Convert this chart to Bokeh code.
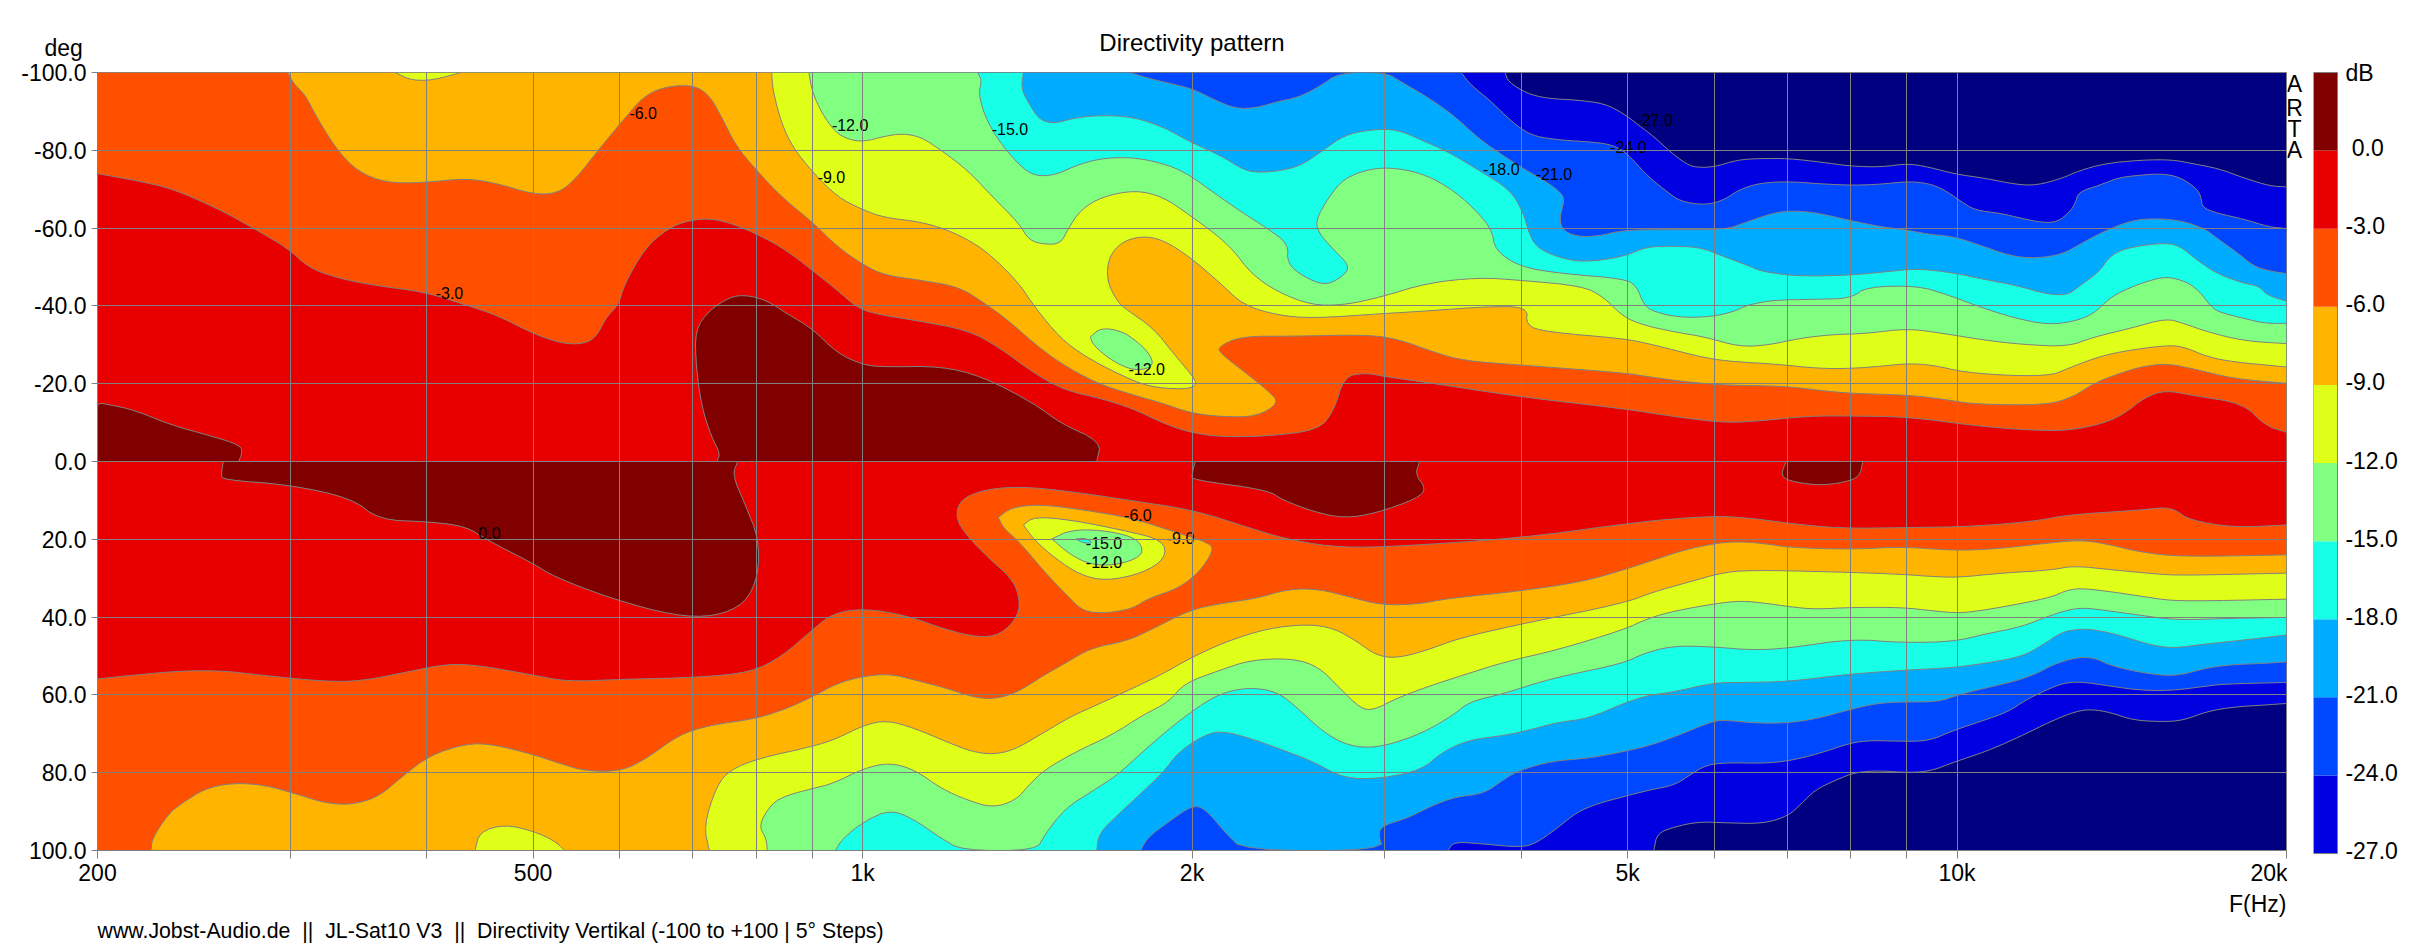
from bokeh.plotting import figure
from bokeh.layouts import row, column
from bokeh.models import (Range1d, FixedTicker, PrintfTickFormatter, ColumnDataSource, Title)
from bokeh.core.properties import value
from bokeh.embed import file_html
from bokeh.resources import INLINE

# Every contour is a list of (log10 of frequency in Hz, angle in degrees).
U27 = [(3.587,-100),(3.590,-97.6),(3.607,-94.6),(3.626,-93.3),(3.654,-92.9),(3.678,-92),(3.695,-89.5),(3.709,-86.5),(3.723,-83.5),(3.738,-79.6),(3.752,-76.6),(3.761,-75.6),(3.778,-75.7),(3.799,-77.5),(3.818,-77.9),(3.846,-77.9),(3.875,-77),(3.903,-75.9),(3.931,-75.7),(3.955,-76.6),(3.974,-75.7),(3.998,-73.9),(4.026,-72.8),(4.054,-71.2),(4.073,-71),(4.097,-72.9),(4.111,-74.7),(4.135,-76.6),(4.168,-77.5),(4.196,-77.6),(4.215,-76.6),(4.239,-75.3),(4.263,-72.8),(4.286,-70.8),(4.301,-70.6)]
L27 = [(3.723,100),(3.726,95.6),(3.742,93.9),(3.764,92.6),(3.790,92.9),(3.823,93.1),(3.846,91.1),(3.858,87.9),(3.870,84.5),(3.889,81.9),(3.908,79.8),(3.931,79.5),(3.955,80),(3.976,79.6),(3.998,77.2),(4.026,74.6),(4.054,71.2),(4.088,66.5),(4.109,64.2),(4.123,63.7),(4.140,64.5),(4.161,66.5),(4.187,66.9),(4.206,66.6),(4.229,64.2),(4.253,63.1),(4.281,62.6),(4.301,62.2)]
U24 = [(3.547,-100),(3.556,-96.7),(3.573,-92.9),(3.587,-89),(3.601,-85.6),(3.615,-83.5),(3.639,-82.6),(3.663,-82.2),(3.682,-81.6),(3.695,-80),(3.704,-77.5),(3.718,-73.2),(3.737,-68.9),(3.747,-67),(3.763,-66.1),(3.777,-66.3),(3.789,-67.6),(3.801,-69.9),(3.820,-71.6),(3.846,-72),(3.879,-71.3),(3.907,-71),(3.931,-71.3),(3.955,-72),(3.974,-71.5),(3.988,-69.9),(4.002,-67.2),(4.016,-64.6),(4.040,-63.8),(4.059,-62.5),(4.078,-61.4),(4.092,-61.6),(4.103,-64.2),(4.108,-66.3),(4.111,-69.3),(4.130,-71),(4.148,-73),(4.167,-73.6),(4.186,-74),(4.203,-73.2),(4.219,-70.2),(4.223,-68),(4.224,-65.3),(4.238,-63.8),(4.262,-62.3),(4.285,-60.3),(4.301,-59.9)]
L24 = [(3.535,100),(3.540,97.8),(3.563,98.2),(3.601,99.2),(3.615,98.2),(3.634,94.4),(3.653,90.1),(3.672,87.9),(3.695,86.2),(3.718,84.5),(3.742,83.2),(3.756,80.6),(3.770,78.1),(3.789,77.4),(3.822,77.6),(3.846,77),(3.874,75.1),(3.903,72.3),(3.922,71.7),(3.945,71.9),(3.974,71.9),(3.997,69.1),(4.025,66.5),(4.047,64.3),(4.063,61.3),(4.075,59.6),(4.096,57),(4.113,56.6),(4.139,57.7),(4.167,58.8),(4.196,58.9),(4.224,57.9),(4.243,57.2),(4.301,56.8)]
U21 = [(3.244,-100),(3.261,-98.5),(3.284,-97),(3.303,-95.6),(3.322,-92.9),(3.341,-90.7),(3.360,-90.9),(3.379,-92.5),(3.398,-93.6),(3.417,-96.3),(3.436,-100),(3.478,-100),(3.492,-97.6),(3.516,-93.7),(3.540,-89),(3.563,-83),(3.587,-78.3),(3.606,-74.9),(3.625,-71.9),(3.639,-68.9),(3.641,-66.8),(3.637,-62.9),(3.639,-59.5),(3.653,-57.8),(3.672,-57.9),(3.695,-59.5),(3.742,-59.6),(3.789,-59.6),(3.808,-61.6),(3.836,-64.2),(3.855,-64.4),(3.874,-63.8),(3.903,-61.9),(3.931,-60.3),(3.952,-59.6),(3.974,-58.4),(3.997,-57.8),(4.021,-55.6),(4.049,-52.8),(4.073,-52.2),(4.096,-53.3),(4.111,-55.6),(4.130,-58.6),(4.158,-61.9),(4.181,-62.5),(4.205,-61.9),(4.226,-59.9),(4.238,-57.3),(4.257,-53.5),(4.271,-50.2),(4.285,-49),(4.301,-48.3)]
L21 = [(3.254,100),(3.261,96.5),(3.280,92.6),(3.301,88.4),(3.313,89.2),(3.332,95.6),(3.348,100),(3.476,100),(3.471,95.6),(3.476,93.5),(3.497,91.8),(3.521,88.4),(3.542,86.2),(3.568,85.4),(3.587,81.5),(3.601,79.3),(3.630,77),(3.663,76.3),(3.695,74.6),(3.718,73.1),(3.742,70.8),(3.777,66.7),(3.789,66.5),(3.818,67.3),(3.846,67.2),(3.872,66.1),(3.903,63.7),(3.926,62.2),(3.950,61.8),(3.983,61.8),(4.002,59.9),(4.025,58.3),(4.054,56.4),(4.073,54.5),(4.087,52.3),(4.108,50.4),(4.125,50.4),(4.139,52.3),(4.163,54),(4.191,55.1),(4.207,54.7),(4.229,53),(4.252,52.2),(4.281,51.9),(4.301,51.5)]
U18 = [(3.147,-100),(3.145,-95.9),(3.152,-92),(3.162,-87.7),(3.176,-86.9),(3.195,-88.4),(3.218,-89),(3.247,-88.6),(3.275,-86),(3.299,-82.2),(3.327,-78.7),(3.346,-75.3),(3.358,-74.3),(3.379,-74.6),(3.400,-76),(3.419,-79.6),(3.440,-83.9),(3.464,-85.3),(3.488,-85.4),(3.511,-82.6),(3.535,-79.6),(3.563,-74.9),(3.592,-69.8),(3.604,-63.8),(3.608,-59.5),(3.615,-55.2),(3.634,-52.6),(3.658,-51.2),(3.695,-52.6),(3.716,-55.2),(3.742,-55.4),(3.766,-55),(3.784,-53),(3.808,-50.5),(3.822,-48.8),(3.855,-47.6),(3.903,-47.9),(3.936,-48.8),(3.964,-49.6),(3.997,-48.5),(4.025,-46.8),(4.054,-45.3),(4.082,-43),(4.101,-42.8),(4.111,-44.9),(4.130,-48.8),(4.139,-52.6),(4.153,-54.8),(4.186,-56.2),(4.203,-55.6),(4.219,-51.8),(4.238,-48.2),(4.262,-45.8),(4.276,-45.1),(4.283,-42.8),(4.301,-41.2)]
L18 = [(3.214,100),(3.216,95.6),(3.233,90.9),(3.256,84.9),(3.275,79.8),(3.289,74.6),(3.313,70.2),(3.329,69.3),(3.355,71.2),(3.388,74.6),(3.412,77.2),(3.440,81.5),(3.474,81.5),(3.511,79.3),(3.530,74.6),(3.554,71.6),(3.582,70.6),(3.606,69.3),(3.634,67.1),(3.663,66.1),(3.695,62.2),(3.718,60.1),(3.742,59.2),(3.777,56.9),(3.803,56.8),(3.846,56.6),(3.903,54.6),(3.955,53.6),(3.997,53),(4.025,51.9),(4.059,50.2),(4.078,47.2),(4.096,43.8),(4.111,43.1),(4.125,43.2),(4.148,44.6),(4.177,47.2),(4.198,48),(4.224,47),(4.262,45.9),(4.301,44.6)]
U15 = [(3.105,-100),(3.109,-98),(3.106,-94.6),(3.112,-88.6),(3.124,-82.6),(3.143,-76.2),(3.157,-73.4),(3.176,-73.6),(3.199,-76.6),(3.223,-78.1),(3.251,-78.1),(3.280,-76.2),(3.299,-73.6),(3.322,-68.9),(3.346,-64.2),(3.370,-59.9),(3.389,-56),(3.388,-50.9),(3.403,-47.5),(3.422,-45.3),(3.436,-47),(3.446,-50),(3.431,-54.3),(3.417,-58.6),(3.414,-62),(3.426,-68),(3.440,-72.8),(3.464,-75.3),(3.488,-75.5),(3.516,-73.6),(3.542,-69.3),(3.563,-63.8),(3.575,-59.5),(3.578,-54.3),(3.601,-50),(3.639,-48.3),(3.695,-47),(3.707,-45.3),(3.714,-40.2),(3.723,-38.5),(3.747,-37),(3.775,-37.2),(3.796,-38.5),(3.808,-40.2),(3.832,-41.5),(3.870,-41.7),(3.903,-41.9),(3.917,-44.9),(3.964,-45.2),(3.992,-42.8),(4.025,-39.3),(4.054,-36.8),(4.082,-35.2),(4.106,-35.9),(4.125,-38),(4.139,-41.9),(4.153,-44.1),(4.172,-46.2),(4.191,-47.6),(4.210,-46.2),(4.222,-43.6),(4.231,-40.2),(4.238,-38.5),(4.262,-36.8),(4.281,-35.5),(4.301,-35.5)]
L15 = [(2.975,100),(2.982,96.9),(3.001,92.6),(3.025,89.5),(3.046,91.8),(3.072,96.9),(3.091,100),(3.159,100),(3.166,96.1),(3.185,89.2),(3.209,84.9),(3.233,80.6),(3.256,74.6),(3.284,67.8),(3.313,61.8),(3.332,59.2),(3.355,58.1),(3.379,59.2),(3.398,63.5),(3.417,68.6),(3.436,72.1),(3.455,73.6),(3.478,73.1),(3.511,69.9),(3.540,65.2),(3.554,61.8),(3.587,59.6),(3.615,57),(3.644,54.9),(3.695,51.9),(3.714,49.3),(3.740,47.4),(3.775,47.6),(3.813,48.5),(3.846,48),(3.903,45.6),(3.950,46.6),(3.997,46.3),(4.025,44.4),(4.059,42.5),(4.082,39.9),(4.101,38.2),(4.115,37.6),(4.134,38.2),(4.167,39.5),(4.200,40.8),(4.252,40.3),(4.301,40.1)]
U12 = [(2.951,-100),(2.954,-95),(2.963,-89.5),(2.975,-84.7),(2.987,-82.8),(3.001,-82.2),(3.020,-83.6),(3.036,-84.3),(3.053,-83.5),(3.072,-80),(3.096,-74.9),(3.119,-68),(3.143,-61.2),(3.152,-56.9),(3.166,-55.8),(3.181,-56),(3.188,-59.9),(3.199,-64.6),(3.218,-68),(3.249,-69.8),(3.275,-68),(3.299,-63.3),(3.322,-58.6),(3.339,-54.3),(3.355,-48.3),(3.379,-43.6),(3.410,-40.2),(3.440,-40.2),(3.474,-42.3),(3.516,-45.9),(3.563,-47.3),(3.601,-46.6),(3.658,-45.1),(3.677,-42.3),(3.695,-37.2),(3.714,-35),(3.742,-33.3),(3.770,-32),(3.801,-29.5),(3.827,-29.9),(3.855,-31.6),(3.884,-32.6),(3.917,-32.9),(3.955,-34.2),(3.988,-32.9),(4.025,-31.2),(4.059,-30.1),(4.101,-29.5),(4.125,-32),(4.158,-34.2),(4.191,-36.8),(4.207,-35.5),(4.229,-33.3),(4.262,-31),(4.301,-30.3)]
L12 = [(2.913,100),(2.912,96.9),(2.905,93.5),(2.917,87.9),(2.931,85.8),(2.954,84.1),(2.973,82.8),(3.001,78.9),(3.025,77.4),(3.048,79.3),(3.072,84.1),(3.096,87.1),(3.119,89),(3.140,87.1),(3.152,83.2),(3.166,79.3),(3.195,74.6),(3.228,70.3),(3.256,65.2),(3.280,61.8),(3.294,57),(3.327,53.6),(3.355,51),(3.393,50.6),(3.417,52.8),(3.436,58.3),(3.455,63.5),(3.467,63.9),(3.488,60.9),(3.516,57.9),(3.549,54.9),(3.587,51.5),(3.634,48.5),(3.695,43.3),(3.718,40.3),(3.742,38.4),(3.780,36.5),(3.803,35.8),(3.827,36.5),(3.846,37.3),(3.870,38),(3.903,37.5),(3.950,37.5),(3.978,38.4),(4.002,39),(4.025,38.2),(4.059,36.5),(4.087,34.8),(4.101,33),(4.115,32.6),(4.144,33.6),(4.172,34.8),(4.196,35.8),(4.233,35.8),(4.301,35.4)]
U9 = [(2.917,-100),(2.918,-95.5),(2.926,-86.9),(2.936,-80.9),(2.954,-74.5),(2.977,-68),(3.001,-64.6),(3.020,-62.7),(3.053,-61.6),(3.077,-59.6),(3.100,-56.5),(3.119,-52.6),(3.143,-45.8),(3.157,-39.8),(3.181,-31.6),(3.204,-26.9),(3.233,-22.6),(3.261,-19.2),(3.294,-18.5),(3.306,-19.6),(3.301,-22.2),(3.284,-27.8),(3.266,-34.2),(3.242,-38.9),(3.233,-41),(3.223,-46.6),(3.225,-52.6),(3.237,-56.5),(3.256,-58),(3.275,-56.9),(3.299,-52.6),(3.327,-45.8),(3.348,-40.2),(3.379,-37.6),(3.412,-36.8),(3.474,-38),(3.516,-38.7),(3.568,-39.8),(3.608,-39.8),(3.606,-35),(3.625,-33.3),(3.695,-31.6),(3.718,-30.3),(3.742,-28.6),(3.766,-26.9),(3.789,-25.8),(3.836,-25),(3.874,-23.9),(3.903,-23.9),(3.931,-24.5),(3.955,-25.2),(3.978,-24.8),(4.007,-22.9),(4.054,-22),(4.087,-22.2),(4.101,-23.9),(4.125,-26.5),(4.148,-28.2),(4.191,-29.9),(4.207,-29.5),(4.229,-26.9),(4.252,-25.6),(4.301,-24.3)]
L9 = [(2.860,100),(2.855,93.5),(2.867,83.2),(2.879,79.3),(2.905,76.3),(2.954,73.3),(2.977,71.2),(3.001,67.8),(3.022,66.5),(3.048,68.6),(3.077,72.1),(3.100,74.6),(3.119,75.3),(3.138,74.2),(3.162,70.3),(3.190,65.6),(3.214,62.6),(3.247,58.3),(3.275,54.5),(3.299,50.6),(3.332,46.3),(3.370,42.9),(3.407,41.8),(3.431,42.9),(3.452,46.3),(3.469,49.8),(3.488,50.6),(3.516,48.5),(3.544,45.5),(3.601,41.8),(3.695,36.5),(3.723,33.5),(3.751,31.3),(3.789,28.3),(3.818,28),(3.846,28.1),(3.903,28.5),(3.950,29),(3.978,29.6),(4.002,29.8),(4.040,28.7),(4.087,27.9),(4.106,26.8),(4.144,27.9),(4.181,28.9),(4.205,29.3),(4.301,28.7)]
U6 = [(2.475,-100),(2.480,-97.2),(2.491,-94.2),(2.501,-88.6),(2.520,-80),(2.539,-74.5),(2.565,-71.6),(2.600,-71.7),(2.638,-72.8),(2.666,-71.5),(2.699,-68.7),(2.721,-68.9),(2.737,-72.3),(2.761,-80.9),(2.780,-87.3),(2.801,-94.2),(2.822,-96.5),(2.846,-96.7),(2.860,-94.2),(2.872,-88.2),(2.884,-81.3),(2.903,-74.9),(2.926,-68),(2.954,-61.6),(2.977,-55.2),(3.001,-50.5),(3.020,-47.9),(3.053,-46.6),(3.088,-44.9),(3.110,-41),(3.133,-36.3),(3.157,-30.3),(3.181,-25.2),(3.214,-20.1),(3.247,-17.1),(3.275,-14.9),(3.299,-12.5),(3.327,-11.5),(3.360,-11.5),(3.381,-15.1),(3.370,-18.3),(3.351,-22.6),(3.327,-27.8),(3.325,-29.5),(3.346,-32.2),(3.393,-32.2),(3.464,-32.6),(3.492,-31.2),(3.521,-28.2),(3.549,-25.9),(3.601,-24.8),(3.695,-22.8),(3.718,-21.8),(3.751,-20.5),(3.789,-19.6),(3.841,-19.4),(3.874,-18.3),(3.903,-17.5),(3.955,-17.1),(3.988,-16),(4.016,-14.7),(4.082,-14.5),(4.106,-16.6),(4.125,-20.1),(4.144,-22.2),(4.167,-24.3),(4.191,-25.2),(4.215,-23.9),(4.252,-21.3),(4.301,-20.1)]
L6 = [(2.350,100),(2.351,96.9),(2.366,90.5),(2.378,87.9),(2.399,84.1),(2.425,82.6),(2.454,83.2),(2.482,85.4),(2.510,87.9),(2.534,88.2),(2.558,86.2),(2.581,80.6),(2.605,75.5),(2.638,72.5),(2.662,72.7),(2.699,75.3),(2.723,77.6),(2.747,79.6),(2.780,79.6),(2.803,76.3),(2.832,70.3),(2.860,67.8),(2.903,66.1),(2.931,63.5),(2.954,60.5),(2.977,57),(3.001,55.2),(3.025,54.6),(3.048,56.2),(3.077,58.3),(3.100,60.5),(3.119,61.1),(3.140,59.6),(3.166,54.9),(3.185,51.9),(3.209,47.9),(3.242,46.1),(3.266,42.9),(3.299,38.2),(3.327,36.5),(3.360,35.2),(3.389,32.8),(3.417,32.8),(3.445,34.8),(3.474,36.9),(3.507,36.7),(3.535,35.2),(3.601,33.3),(3.658,30.9),(3.695,27.9),(3.723,25.3),(3.751,22.7),(3.780,21),(3.799,20.6),(3.822,21),(3.846,22.1),(3.903,22.6),(3.950,21.9),(3.997,22.9),(4.035,22.5),(4.082,21),(4.111,20.2),(4.134,21),(4.167,23.3),(4.205,24.5),(4.301,24)]
U3 = [(2.301,-74),(2.335,-72.3),(2.369,-70.2),(2.411,-65),(2.444,-59.9),(2.475,-54.8),(2.494,-49.8),(2.520,-47.2),(2.553,-45.3),(2.600,-43.6),(2.638,-40.2),(2.666,-37.6),(2.699,-32.9),(2.723,-30.5),(2.742,-30.1),(2.756,-31.6),(2.766,-37.2),(2.777,-40.2),(2.782,-45.3),(2.801,-54.8),(2.822,-59.9),(2.841,-62),(2.865,-62.5),(2.893,-59.9),(2.926,-55.2),(2.954,-49.2),(2.977,-44),(2.994,-39.8),(3.010,-38),(3.048,-36.3),(3.096,-33.8),(3.124,-29.5),(3.157,-22.6),(3.185,-18.3),(3.218,-16.2),(3.247,-13.6),(3.275,-9.8),(3.299,-7.5),(3.327,-6.3),(3.370,-6.5),(3.417,-8.1),(3.431,-13.2),(3.440,-21.8),(3.459,-22.8),(3.478,-21.8),(3.521,-20.1),(3.601,-16.6),(3.695,-13.6),(3.742,-11.5),(3.789,-9.9),(3.822,-10.5),(3.865,-11.7),(3.903,-11.7),(3.955,-11.5),(4.016,-9.2),(4.063,-8.1),(4.101,-7.9),(4.134,-9.8),(4.153,-12.3),(4.172,-16.6),(4.191,-18.3),(4.215,-17),(4.262,-14.9),(4.281,-9.3),(4.301,-7.5)]
L3 = [(2.301,55.9),(2.335,54.9),(2.378,53.8),(2.416,53.8),(2.449,54.9),(2.510,56.6),(2.543,56.4),(2.586,54),(2.619,52.1),(2.647,52.3),(2.699,54.9),(2.730,56.6),(2.780,56),(2.851,55.5),(2.898,54.2),(2.926,50.2),(2.954,43.3),(2.973,39),(3.001,37.8),(3.039,39.5),(3.077,43.3),(3.105,45.2),(3.126,44.6),(3.143,39.5),(3.143,34.3),(3.136,30),(3.114,24.5),(3.096,19.3),(3.085,14.6),(3.089,9.9),(3.110,7.3),(3.143,6.4),(3.190,7.7),(3.242,9.9),(3.303,12.5),(3.355,17.2),(3.384,19.7),(3.426,21.9),(3.474,22.1),(3.601,19.7),(3.695,16.1),(3.733,14.9),(3.780,14),(3.813,14.6),(3.846,15.9),(3.893,17.2),(3.955,17),(4.016,16.7),(4.073,15.3),(4.101,13.7),(4.167,12.5),(4.189,11.8),(4.200,12.5),(4.212,15),(4.252,17),(4.301,16.3)]

# Areas above 0 dB
Z1 = [(2.301,0),(2.301,-13),(2.301,-15.1),(2.312,-14.6),(2.335,-13.2),(2.369,-9.3),(2.402,-6.8),(2.432,-4.2),(2.433,-2),(2.430,0)]
Z2 = [(2.867,0),(2.870,-2.1),(2.862,-6.3),(2.853,-14.1),(2.848,-24.3),(2.847,-33.8),(2.860,-38.9),(2.879,-42.3),(2.893,-42.8),(2.912,-41.5),(2.931,-38),(2.954,-34.2),(2.977,-27.8),(3.001,-24.8),(3.020,-24.3),(3.072,-24.5),(3.110,-21.8),(3.157,-14.9),(3.181,-9.8),(3.218,-5.1),(3.214,0)]
Z3 = [(2.416,0),(2.414,3.4),(2.416,4.7),(2.477,6),(2.534,9.5),(2.558,15),(2.605,15.5),(2.638,16.7),(2.657,20.2),(2.699,26.2),(2.718,29.6),(2.770,35.2),(2.827,39.6),(2.865,39.9),(2.893,36.5),(2.905,29.2),(2.905,19.7),(2.893,11.2),(2.881,3.4),(2.886,0)]
Z4 = [(3.304,0),(3.301,3.4),(3.301,4.7),(3.370,7.3),(3.384,9.9),(3.412,12.9),(3.440,14.6),(3.469,13.3),(3.507,9.5),(3.515,6.9),(3.505,3.4),(3.509,0)]
Z5 = [(3.844,0),(3.839,3.4),(3.846,5),(3.874,6.2),(3.898,5.3),(3.911,3.9),(3.914,0)]

# Small closed areas that lie inside a wider band
TOP_YELLOW = [(2.573,-100),(2.586,-98.2),(2.600,-97.9),(2.614,-98.5),(2.633,-100)]
BOT_YELLOW = [(2.646,100),(2.650,95.2),(2.673,93.3),(2.699,95),(2.718,97.4),(2.728,100)]
UP_GREEN = [(3.208,-32),(3.218,-34.4),(3.237,-33.5),(3.251,-30.8),(3.262,-27.8),(3.266,-24.8),(3.256,-23.5),(3.242,-23.9),(3.225,-26.5),(3.211,-29.9),(3.208,-32)]
DIP_ORANGE = [(3.124,14.4),(3.136,11.8),(3.162,11),(3.204,12.5),(3.247,14.6),(3.284,18),(3.318,21),(3.320,23.2),(3.308,28.3),(3.289,32.6),(3.261,35.2),(3.247,37.8),(3.223,39),(3.202,38.6),(3.188,34.8),(3.166,28.3),(3.143,20.6),(3.129,17.2),(3.124,14.4)]
DIP_YELLOW = [(3.147,16.3),(3.157,14.2),(3.190,15),(3.237,17.6),(3.275,20.2),(3.277,24.9),(3.256,28.7),(3.223,30.7),(3.199,29.2),(3.176,24.9),(3.157,20.2),(3.147,16.3)]
DIP_GREEN = [(3.173,19.9),(3.190,17.6),(3.218,17.6),(3.247,19.3),(3.256,21.9),(3.254,24.5),(3.233,26.6),(3.209,26.6),(3.190,24),(3.173,19.9)]
DIP_CYAN = [(3.195,19.9),(3.204,19.7),(3.211,21),(3.202,21),(3.195,19.9)]

LEVEL_COLORS = ["#0000E0","#0048FF","#00ACFF","#18FFE8","#80FF80","#E0FF18","#FFB400","#FF5000","#E80000","#800000"]
BAND_CURVES = [(U27,L27),(U24,L24),(U21,L21),(U18,L18),(U15,L15),(U12,L12),(U9,L9),(U6,L6),(U3,L3)]
ISLANDS = [(TOP_YELLOW,"#E0FF18"),(BOT_YELLOW,"#E0FF18"),(UP_GREEN,"#80FF80"),(DIP_ORANGE,"#FFB400"),
           (DIP_YELLOW,"#E0FF18"),(DIP_GREEN,"#80FF80"),(DIP_CYAN,"#18FFE8"),
           (Z1,"#800000"),(Z2,"#800000"),(Z3,"#800000"),(Z4,"#800000"),(Z5,"#800000")]

contour_f = [2.787,2.610,2.649,2.972,3.118,2.959,3.243,3.567,3.615,3.707,3.683,3.239,3.278,3.204,3.204]
contour_d = [-89.5,-43.2,18.5,-86.5,-85.6,-73.2,-23.9,-75.1,-74,-87.7,-80.9,13.7,19.7,21,25.9]
contour_t = ["-6.0","-3.0","0.0","-12.0","-15.0","-9.0","-12.0","-18.0","-21.0","-27.0","-24.0","-6.0","-9.0","-15.0","-12.0"]

freq_ticks = [200,300,400,500,600,700,800,900,1000,2000,3000,4000,5000,6000,7000,8000,9000,10000,20000]
freq_names = {200:"200",500:"500",1000:"1k",2000:"2k",5000:"5k",10000:"10k",20000:"20k"}
deg_ticks = [-100,-80,-60,-40,-20,0,20,40,60,80,100]
db_low = [-27,-24,-21,-18,-15,-12,-9,-6,-3,0]
db_high = [-24,-21,-18,-15,-12,-9,-6,-3,0,3]
db_ticks = [0,-3,-6,-9,-12,-15,-18,-21,-24,-27]
arta_letters = ["A","R","T","A"]
arta_deg = [-97,-91,-85.5,-80]
F = "Liberation Sans"
GREY = "#808080"

p = figure(width=2287, height=950, x_axis_type="log", x_range=Range1d(200,20000), y_range=Range1d(100,-100),
           output_backend="svg", toolbar_location=None, background_fill_color="#000080",
           min_border_left=97, min_border_right=1, min_border_top=72, min_border_bottom=100,
           outline_line_color=GREY, border_fill_color="white")

def hz(points):
    return [10**a for a,_ in points]
def deg(points):
    return [b for _,b in points]
def round_corners(points, passes=2):
    # outline drawing only: softens the corners between the read points, keeping both ends
    pts = list(points)
    for _ in range(passes):
        out = [pts[0]]
        for (x0,y0),(x1,y1) in zip(pts[:-1], pts[1:]):
            out.append((0.75*x0+0.25*x1, 0.75*y0+0.25*y1))
            out.append((0.25*x0+0.75*x1, 0.25*y0+0.75*y1))
        out.append(pts[-1])
        pts = out
    return pts
def band(upper, lower):
    pts = round_corners(upper) + list(reversed(round_corners(lower)))
    if upper[0][0] > 2.301:
        pts = [(2.301,-100)] + pts
    if lower[0][0] > 2.301:
        pts = pts + [(2.301,100)]
    return pts

for (u,l),c in zip(BAND_CURVES, LEVEL_COLORS):
    pts = band(u,l)
    p.patch(hz(pts), deg(pts), fill_color=c, line_color=GREY, line_width=1)
for pts,c in ISLANDS:
    pts = round_corners(pts)
    p.patch(hz(pts), deg(pts), fill_color=c, line_color=GREY, line_width=1)

src = ColumnDataSource(dict(f=[10**v for v in contour_f], d=contour_d, t=contour_t))
p.text("f","d",text="t",source=src,text_font=value(F),text_font_size="16px",text_color="black",
       text_align="left",text_baseline="middle")

p.xgrid.ticker = FixedTicker(ticks=freq_ticks)
p.ygrid.ticker = FixedTicker(ticks=deg_ticks)
for g in (p.xgrid,p.ygrid):
    g.grid_line_color = GREY
    g.grid_line_width = 1
    g.level = "overlay"

xa = p.xaxis[0]
xa.ticker = FixedTicker(ticks=freq_ticks)
xa.major_label_overrides = {t: freq_names.get(t,"") for t in freq_ticks}
ya = p.yaxis[0]
ya.ticker = FixedTicker(ticks=deg_ticks)
ya.formatter = PrintfTickFormatter(format="%.1f")
for a in (xa,ya):
    a.axis_line_color = GREY
    a.major_tick_line_color = GREY
    a.minor_tick_line_color = None
    a.major_tick_in = 0
    a.major_label_text_font = F
    a.major_label_text_font_size = "23px"
    a.major_label_text_color = "black"
xa.major_tick_out = 8
xa.major_label_standoff = 1
ya.major_tick_out = 6
ya.major_label_standoff = 5

def heading(s, align, standoff, size="23px", offset=0):
    return Title(text=s, align=align, standoff=standoff, offset=offset, text_font=F, text_font_size=size,
                 text_font_style="normal", text_color="black")
p.add_layout(heading("deg", "left", 24, offset=-53), "above")
p.add_layout(heading("Directivity pattern", "center", -70, "24px"), "above")
p.add_layout(heading("F(Hz)", "right", 0), "below")
p.add_layout(heading("www.Jobst-Audio.de\u00a0\u00a0||\u00a0\u00a0JL-Sat10 V3\u00a0\u00a0||\u00a0\u00a0Directivity Vertikal (-100 to +100 | 5° Steps)", "left", 0, "21.3px"), "below")

# narrow strip between the plot and the colour bar, for the upright program mark
r = figure(width=26, height=950, x_range=Range1d(0,1), y_range=p.y_range, output_backend="svg",
           toolbar_location=None, min_border_left=0, min_border_right=0, min_border_top=72, min_border_bottom=100,
           outline_line_color=None, border_fill_color="white", background_fill_color="white")
r.axis.visible = False
r.grid.visible = False
r.text(x=[0.27]*len(arta_letters), y=arta_deg, text=arta_letters, text_font=value(F), text_font_size="23px",
       text_color="black", text_align="center", text_baseline="middle")

# colour bar with its labels
q = figure(width=120, height=950, x_range=Range1d(0,5), y_range=Range1d(-27.65,3.845),
           output_backend="svg", toolbar_location=None, min_border_left=0, min_border_right=0,
           min_border_top=50, min_border_bottom=80, outline_line_color=None, border_fill_color="white",
           background_fill_color="white")
q.axis.visible = False
q.grid.visible = False
q.quad(left=0, right=1, bottom=db_low, top=db_high, fill_color=LEVEL_COLORS, line_color=None)
q.quad(left=0, right=1, bottom=min(db_low), top=max(db_high), fill_color=None, line_color=GREY, line_width=1)
db_labels = ["\u00a00.0" if v == 0 else "%.1f" % v for v in db_ticks]
q.text(x=[1.33]*len(db_ticks), y=db_ticks, text=db_labels, text_font=value(F), text_font_size="23px",
       text_color="black", text_align="left", text_baseline="middle", y_offset=-3)
q.text(x=[1.33], y=[max(db_high)], text=["dB"], text_font=value(F), text_font_size="23px",
       text_color="black", text_align="left", text_baseline="middle")

open("out.html","w").write(file_html(row(p, r, column(q, spacing=0), spacing=0), INLINE))
